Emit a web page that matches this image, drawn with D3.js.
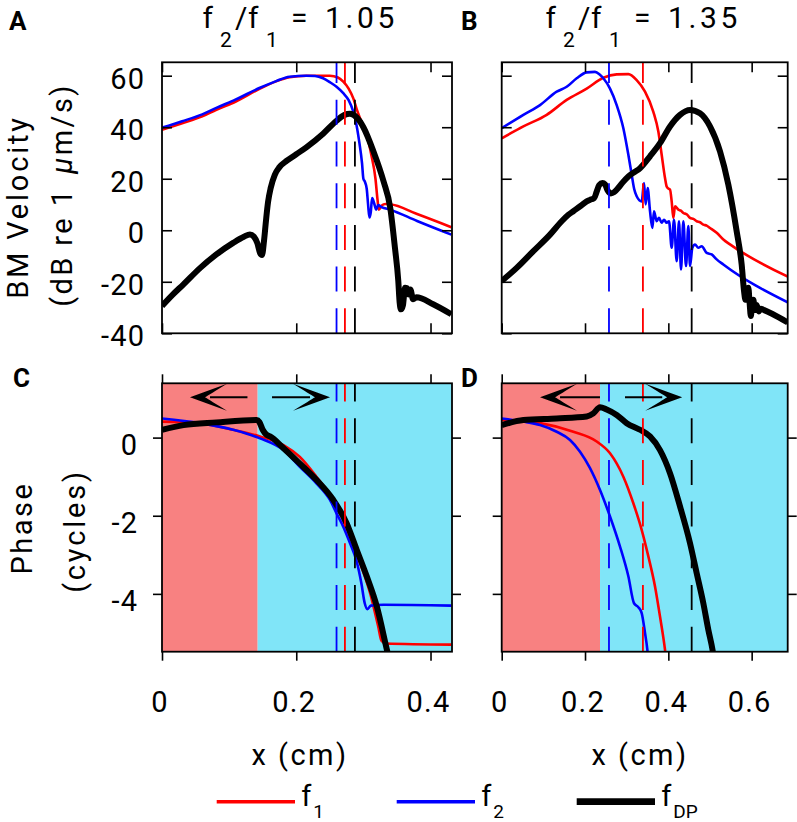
<!DOCTYPE html>
<html><head><meta charset="utf-8">
<script src="https://cdn.jsdelivr.net/npm/d3@7"></script>
<style>
body{margin:0;background:#fff}
svg{display:block}
text{font-family:Roboto,"Open Sans",sans-serif;fill:#000}
</style>
</head><body>
<svg id="c" width="797" height="822"></svg>
<script>
// ---------------- data ----------------
const xTicksA = [0, 0.2, 0.4];
const xTicksB = [0, 0.2, 0.4, 0.6];
const velTicks = [-40, -20, 0, 20, 40, 60];
const phaseTicks = [-4, -2, 0];
const xMaxA = 0.432, xMaxB = 0.6865;
const velDomain = [-40, 65.2];
const phaseDomain = [-5.48, 1.39];
const titleA = "1.05", titleB = "1.35";
const dashA = {f2: 0.260, f1: 0.2725, dp: 0.2874};
const dashB = {f2: 0.2575, f1: 0.339, dp: 0.456};
const regionA = 0.1425, regionB = 0.236;

const velA_f1 = [[0,39],[0.03,41.5],[0.06,44.2],[0.081,46.8],[0.11,50],[0.146,55],[0.17,57.8],[0.19,59.4],[0.215,60],[0.25,60],[0.262,59.3],[0.27,57.7],[0.278,55],[0.285,51.2],[0.29,47],[0.295,43.5],[0.305,37],[0.312,29],[0.318,20],[0.321,12],[0.323,8],[0.327,9.5],[0.333,10.2],[0.34,10.1],[0.38,6.3],[0.431,1.2]];
const velA_f2 = [[0,39.8],[0.03,42.3],[0.06,45],[0.081,47.5],[0.11,50.8],[0.146,55.3],[0.17,57.9],[0.19,59.6],[0.215,60],[0.228,59.9],[0.24,59],[0.25,57.5],[0.26,55.7],[0.27,53.2],[0.278,50.5],[0.285,46],[0.29,40.5],[0.294,34],[0.298,26],[0.300,20],[0.302,19],[0.305,16],[0.307,10],[0.309,5],[0.311,7],[0.313,12.5],[0.316,10.5],[0.319,8],[0.322,9.8],[0.327,9],[0.34,8],[0.38,3.6],[0.431,-1.7]];
const velA_dp = [[0,-29.4],[0.016,-25],[0.032,-21],[0.057,-14.6],[0.081,-9.4],[0.106,-4.9],[0.122,-2.5],[0.131,-1.6],[0.137,-2.5],[0.142,-5],[0.146,-8.8],[0.149,-9.6],[0.152,-4],[0.155,4],[0.158,11],[0.162,16.5],[0.168,21.5],[0.175,24.5],[0.186,27],[0.2,29.5],[0.215,32.2],[0.24,37.5],[0.26,42.5],[0.272,44.8],[0.28,45.2],[0.29,43.8],[0.30,40],[0.315,30.6],[0.33,19],[0.34,8.7],[0.347,-6.8],[0.352,-19.7],[0.354,-28],[0.356,-30.7],[0.359,-29],[0.362,-22.3],[0.365,-22.5],[0.367,-24.9],[0.37,-23],[0.374,-26.8],[0.379,-26],[0.404,-28.7],[0.431,-32.6]];

const velB_f1 = [[0,35.7],[0.052,40.3],[0.108,44.8],[0.156,50.6],[0.204,55],[0.244,59.2],[0.276,60.5],[0.304,60.6],[0.324,58.3],[0.344,53.8],[0.364,46],[0.376,38.3],[0.384,29.3],[0.392,20.3],[0.396,17],[0.4,16.2],[0.404,15.8],[0.408,11.2],[0.412,4.8],[0.416,9.3],[0.424,8],[0.43,7.6],[0.436,6.7],[0.444,6.2],[0.452,4.8],[0.46,4.4],[0.468,3.5],[0.476,3.1],[0.484,2.2],[0.492,1.8],[0.5,0.9],[0.516,-1],[0.532,-3.6],[0.548,-5.5],[0.6865,-18]];
const velB_f2 = [[0,39.6],[0.052,44.8],[0.092,48.6],[0.132,53.8],[0.156,55.7],[0.18,59],[0.204,61.3],[0.224,61.5],[0.235,60.5],[0.244,59],[0.26,55],[0.276,48.6],[0.292,39.6],[0.304,29.3],[0.312,21.6],[0.318,16],[0.324,13.2],[0.336,11.2],[0.3416,18.3],[0.3456,10],[0.3504,16.4],[0.356,7.4],[0.3616,0.9],[0.3656,7.4],[0.372,3.5],[0.3776,4.8],[0.384,2.9],[0.3896,4.1],[0.396,2.9],[0.4016,3.5],[0.408,-6.8],[0.4136,4.1],[0.42,-12],[0.4256,3.5],[0.4304,-15.2],[0.436,3.5],[0.4424,-13.9],[0.448,1.6],[0.452,-13.9],[0.4576,-6.8],[0.464,-5.5],[0.472,-6.8],[0.48,-6.2],[0.492,-8.8],[0.504,-9.4],[0.516,-11.3],[0.532,-13.3],[0.6865,-28]];
const velB_dp = [[0,-19.7],[0.036,-14.6],[0.076,-8.1],[0.116,-1.7],[0.144,3.5],[0.16,6],[0.172,7.4],[0.19,9.5],[0.204,11.2],[0.215,12],[0.222,12.5],[0.228,15],[0.234,17.5],[0.242,18.3],[0.248,17.8],[0.254,15.5],[0.262,14.3],[0.27,14.8],[0.28,16.5],[0.29,18.5],[0.304,20.9],[0.318,22.5],[0.332,24.1],[0.356,28.7],[0.38,33.8],[0.404,40.3],[0.428,44.8],[0.452,46.7],[0.476,45.4],[0.5,40.3],[0.524,30.6],[0.544,17.7],[0.564,-0.4],[0.576,-13.3],[0.582,-24],[0.585,-27],[0.589,-25],[0.592,-22.3],[0.595,-28],[0.598,-33.3],[0.601,-29],[0.604,-27],[0.608,-31],[0.612,-29],[0.617,-31.5],[0.622,-30.5],[0.63,-31],[0.65,-32.5],[0.6865,-35.8]];

const phA_f1 = [[0,0.41],[0.057,0.36],[0.106,0.2],[0.146,0.03],[0.181,-0.19],[0.205,-0.49],[0.23,-1.0],[0.25,-1.47],[0.265,-1.94],[0.28,-2.53],[0.295,-3.21],[0.31,-3.98],[0.322,-4.83],[0.327,-5.2],[0.333,-5.27],[0.431,-5.3]];
const phA_f2 = [[0,0.49],[0.057,0.37],[0.106,0.2],[0.146,-0.02],[0.181,-0.32],[0.205,-0.74],[0.23,-1.17],[0.25,-1.59],[0.26,-1.94],[0.27,-2.28],[0.28,-2.7],[0.29,-3.17],[0.297,-3.73],[0.302,-4.24],[0.306,-4.39],[0.311,-4.3],[0.33,-4.28],[0.431,-4.3]];
const phA_dp = [[0,0.2],[0.032,0.32],[0.081,0.39],[0.141,0.45],[0.145,0.4],[0.150,0.2],[0.156,0.07],[0.161,0.03],[0.181,-0.27],[0.205,-0.66],[0.23,-1.08],[0.255,-1.59],[0.275,-2.19],[0.29,-2.87],[0.305,-3.55],[0.32,-4.32],[0.335,-5.43],[0.34,-5.8]];

const phB_f1 = [[0,0.45],[0.092,0.37],[0.172,0.15],[0.228,-0.1],[0.26,-0.4],[0.292,-1.0],[0.316,-1.68],[0.336,-2.36],[0.352,-3.04],[0.368,-3.81],[0.38,-4.58],[0.392,-5.43],[0.395,-5.7]];
const phB_f2 = [[0,0.49],[0.052,0.41],[0.092,0.32],[0.132,0.15],[0.164,-0.06],[0.188,-0.36],[0.212,-0.78],[0.236,-1.34],[0.26,-2.02],[0.284,-2.79],[0.304,-3.55],[0.3176,-4.24],[0.328,-4.34],[0.336,-4.49],[0.344,-5.0],[0.3496,-5.43],[0.352,-5.7]];
const phB_dp = [[0,0.32],[0.052,0.45],[0.132,0.49],[0.204,0.54],[0.22,0.62],[0.236,0.78],[0.252,0.72],[0.276,0.58],[0.3,0.37],[0.332,0.2],[0.356,0.03],[0.38,-0.32],[0.404,-0.91],[0.428,-1.76],[0.452,-2.7],[0.468,-3.47],[0.484,-4.24],[0.496,-4.92],[0.506,-5.43],[0.51,-5.7]];

// ---------------- drawing ----------------
const svg = d3.select("#c");
const defs = svg.append("defs");
const RED = "#ff0000", BLUE = "#0000ff", BLK = "#000000";
const PINK = "#f88181", CYAN = "#80e5f8";

const xA = d3.scaleLinear([0, xMaxA], [162, 452]);
const xB = d3.scaleLinear([0, xMaxB], [501.7, 787.7]);
const yV = d3.scaleLinear(velDomain, [333.3, 62.3]);
const yP = d3.scaleLinear(phaseDomain, [651.7, 383.3]);

function panel(id, xs, ys, xTicks, yTicks, inward, series, dashes, region) {
  const [x0, x1] = xs.range();
  const [yb, yt] = ys.range();
  defs.append("clipPath").attr("id", id).append("rect")
    .attr("x", x0).attr("y", yt).attr("width", x1 - x0).attr("height", yb - yt);
  const g = svg.append("g");
  if (region != null) {
    g.append("rect").attr("x", xs(0)).attr("y", yt).attr("width", xs(region) - xs(0)).attr("height", yb - yt).attr("fill", PINK);
    g.append("rect").attr("x", xs(region)).attr("y", yt).attr("width", x1 - xs(region)).attr("height", yb - yt).attr("fill", CYAN);
  }
  const cg = g.append("g").attr("clip-path", `url(#${id})`);
  const line = d3.line().x(d => xs(d[0])).y(d => ys(d[1])).curve(d3.curveMonotoneX);
  series.forEach(([d, c, w]) => cg.append("path").attr("d", line(d)).attr("fill", "none")
    .attr("stroke", c).attr("stroke-width", w).attr("stroke-linejoin", "round"));
  [[dashes.f2, BLUE], [dashes.f1, RED], [dashes.dp, BLK]].forEach(([v, c]) =>
    cg.append("line").attr("x1", xs(v)).attr("x2", xs(v)).attr("y1", yb).attr("y2", yt)
      .attr("stroke", c).attr("stroke-width", 1.8).attr("stroke-dasharray", "25,16.7"));
  const ts = inward ? -10 : 9;
  const axes = [
    [d3.axisLeft(ys).tickValues(yTicks), `translate(${x0},0)`],
    [d3.axisRight(ys).tickValues(yTicks), `translate(${x1},0)`],
    [d3.axisTop(xs).tickValues(xTicks), `translate(0,${yt})`],
    [d3.axisBottom(xs).tickValues(xTicks), `translate(0,${yb})`]
  ];
  axes.forEach(([ax, tr]) => {
    const a = g.append("g").attr("transform", tr).call(ax.tickSizeInner(ts).tickSizeOuter(0).tickFormat(""));
    a.select(".domain").remove();
    a.selectAll("line").attr("stroke", BLK).attr("stroke-width", 1.6);
  });
  g.append("rect").attr("x", x0).attr("y", yt).attr("width", x1 - x0).attr("height", yb - yt)
    .attr("fill", "none").attr("stroke", BLK).attr("stroke-width", 1.8);
  return g;
}

panel("cA", xA, yV, xTicksA, velTicks, true,
  [[velA_f1, RED, 2.6], [velA_f2, BLUE, 2.6], [velA_dp, BLK, 6]], dashA, null);
panel("cB", xB, yV, xTicksB, velTicks, true,
  [[velB_f1, RED, 2.6], [velB_f2, BLUE, 2.6], [velB_dp, BLK, 6]], dashB, null);
const gC = panel("cC", xA, yP, xTicksA, phaseTicks, false,
  [[phA_f1, RED, 2.6], [phA_f2, BLUE, 2.6], [phA_dp, BLK, 6]], dashA, regionA);
const gD = panel("cD", xB, yP, xTicksB, phaseTicks, false,
  [[phB_f1, RED, 2.6], [phB_f2, BLUE, 2.6], [phB_dp, BLK, 6]], dashB, regionB);

// arrows (annotations in data coords)
function arrow(g, xs, tip, tail, y) {
  const dir = Math.sign(tail - tip);
  const tx = xs(tip), lx = xs(tail);
  const headLen = 37, hw = 13.5;
  g.append("line").attr("x1", tx + dir * 20).attr("x2", lx).attr("y1", y).attr("y2", y)
    .attr("stroke", BLK).attr("stroke-width", 2);
  const p = d3.path();
  p.moveTo(tx, y);
  p.lineTo(tx + dir * headLen, y - hw);
  p.quadraticCurveTo(tx + dir * 20, y - 3, tx + dir * 15, y);
  p.quadraticCurveTo(tx + dir * 20, y + 3, tx + dir * headLen, y + hw);
  p.closePath();
  g.append("path").attr("d", p.toString()).attr("fill", BLK);
}
const arrowY = 397.3;
arrow(gC, xA, 0.0417, 0.1273, arrowY);
arrow(gC, xA, 0.2503, 0.1639, arrowY);
arrow(gD, xB, 0.092, 0.2359, arrowY);
arrow(gD, xB, 0.4333, 0.2960, arrowY);

// tick labels
const fmt = d => String(d);
const TICKFS = 29, TICKLS = 1.2;
velTicks.forEach(v => svg.append("text").attr("x", 144 + TICKLS).attr("y", yV(v) + 13)
  .attr("text-anchor", "end").attr("font-size", TICKFS).attr("letter-spacing", TICKLS).text(fmt(v)));
phaseTicks.forEach(v => svg.append("text").attr("x", 137 + TICKLS).attr("y", yP(v) + 17)
  .attr("text-anchor", "end").attr("font-size", TICKFS).attr("letter-spacing", TICKLS).text(fmt(v)));
xTicksA.forEach(v => svg.append("text").attr("x", xA(v) - 2).attr("y", 711.7)
  .attr("text-anchor", "middle").attr("font-size", TICKFS).attr("letter-spacing", TICKLS).text(fmt(v)));
xTicksB.forEach(v => svg.append("text").attr("x", xB(v) - 2).attr("y", 711.7)
  .attr("text-anchor", "middle").attr("font-size", TICKFS).attr("letter-spacing", TICKLS).text(fmt(v)));

// axis titles
function rot(x, y, ls) {
  return svg.append("text").attr("transform", `translate(${x},${y}) rotate(-90)`)
    .attr("text-anchor", "middle").attr("font-size", 29).attr("letter-spacing", ls);
}
rot(27.5, 207, 2.8).text("BM Velocity");
const t2 = rot(72, 195, 2.4);
t2.append("tspan").text("(dB re 1");
t2.append("tspan").attr("dx", 14).attr("font-style", "italic").text("μ");
t2.append("tspan").text("m/s)");
rot(31.7, 528, 2.5).text("Phase");
rot(85, 531, 2.8).text("(cycles)");

[[300, "x (cm)"], [640, "x (cm)"]].forEach(([x, s]) =>
  svg.append("text").attr("x", x).attr("y", 765).attr("text-anchor", "middle")
    .attr("font-size", 29).attr("letter-spacing", 2.5).text(s));

// panel titles (pieces placed at measured offsets)
function title(x, val) {
  const t = svg.append("text").attr("y", 28).attr("font-size", 30);
  t.append("tspan").attr("x", x).text("f");
  t.append("tspan").attr("x", x + 17.5).attr("font-size", 21).attr("dy", 19).text("2");
  t.append("tspan").attr("x", x + 32.5).attr("dy", -19).text("/");
  t.append("tspan").attr("x", x + 45.5).text("f");
  t.append("tspan").attr("x", x + 63.5).attr("font-size", 21).attr("dy", 19).text("1");
  t.append("tspan").attr("x", x + 88.5).attr("dy", -19).text("=");
  t.append("tspan").attr("x", x + 122.5).attr("letter-spacing", 3.6).text(val);
}
title(202.5, titleA);
title(545.5, titleB);

// panel letters
[["A", 9, 30], ["B", 461, 30], ["C", 13, 387], ["D", 461, 387]].forEach(([s, x, y]) =>
  svg.append("text").attr("x", x).attr("y", y).attr("font-size", 26).attr("font-weight", "bold").text(s));

// legend
const legend = [["1", RED, 2.6], ["2", BLUE, 2.6], ["DP", BLK, 6]];
legend.forEach(([sub, c, w], i) => {
  const x0 = 216.7 + i * 180;
  svg.append("line").attr("x1", x0).attr("x2", x0 + 78.3).attr("y1", 801.7).attr("y2", 801.7)
    .attr("stroke", c).attr("stroke-width", w + 0.8);
  const t = svg.append("text").attr("x", x0 + 84.5).attr("y", 806).attr("font-size", 29);
  t.append("tspan").text("f");
  t.append("tspan").attr("font-size", 19).attr("dy", 11.5).attr("dx", 2).text(sub);
});
</script>
</body></html>
